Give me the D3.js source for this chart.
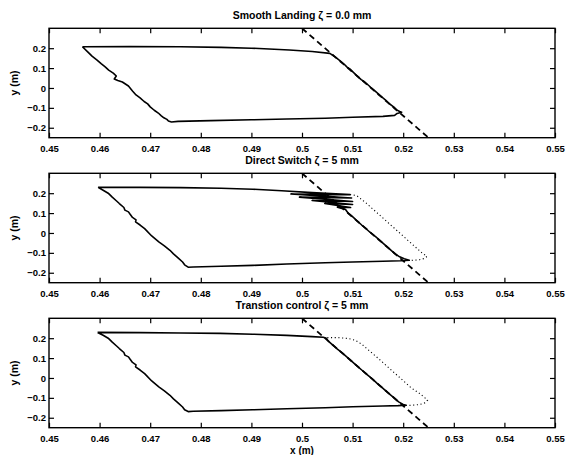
<!DOCTYPE html>
<html><head><meta charset="utf-8">
<script src="https://cdn.jsdelivr.net/npm/d3@7"></script>
<style>body{margin:0;background:#fff}svg text{font-family:"Liberation Sans",Arial,Helvetica,sans-serif;font-weight:bold;fill:#000}</style>
</head><body><svg id="c" width="566" height="455"></svg>
<script>
// ---------- data ----------
const xTicks = [0.45,0.46,0.47,0.48,0.49,0.5,0.51,0.52,0.53,0.54,0.55];
const xTickLabels = ["0.45","0.46","0.47","0.48","0.49","0.5","0.51","0.52","0.53","0.54","0.55"];
const yTicks = [-0.2,-0.1,0,0.1,0.2];
const yTickLabels = ["\u22120.2","\u22120.1","0","0.1","0.2"];
const xDomain = [0.45,0.55];
const yDomain = [-0.25,0.3];
const titles = ["Smooth Landing \u03b6 = 0.0 mm","Direct Switch \u03b6 = 5 mm","Transtion control \u03b6 = 5 mm"];
const xLabel = "x (m)";
const yLabel = "y (m)";
const guideLine = [[0.5,0.3],[0.525,-0.25]];

const smoothPath = [
[0.4566,0.207],[0.466,0.208],[0.476,0.207],[0.484,0.204],[0.490,0.200],[0.4975,0.191],[0.502,0.183],[0.5055,0.174],
[0.5066,0.155],[0.5071,0.145],[0.5076,0.135],[0.5084,0.118],[0.5089,0.105],[0.5095,0.095],[0.5099,0.085],[0.5107,0.065],[0.5117,0.042],[0.5124,0.030],[0.5133,0.010],[0.5137,0.000],[0.5143,-0.012],[0.5153,-0.035],[0.5160,-0.050],[0.5164,-0.058],[0.5172,-0.078],[0.5181,-0.095],[0.5187,-0.110],[0.5193,-0.118],[0.5197,-0.122],
[0.5188,-0.128],[0.5183,-0.138],[0.516,-0.143],[0.510,-0.147],[0.5046,-0.152],[0.497,-0.156],[0.490,-0.160],[0.482,-0.164],[0.4755,-0.168],[0.4742,-0.171],
[0.4736,-0.166],[0.4733,-0.158],[0.4727,-0.150],[0.4722,-0.140],[0.4716,-0.126],[0.4708,-0.112],[0.4700,-0.095],[0.4695,-0.080],[0.4688,-0.068],[0.4680,-0.050],[0.4672,-0.035],[0.4665,-0.015],[0.4657,0.010],[0.4645,0.030],[0.4636,0.038],[0.4629,0.045],[0.4633,0.060],[0.4627,0.075],[0.4618,0.090],[0.4611,0.106],[0.4603,0.122],[0.4595,0.140],[0.4585,0.160],[0.4577,0.180],[0.4566,0.207]
];
const directPath = [
[0.4597,0.229],[0.468,0.229],[0.476,0.228],[0.484,0.225],[0.4903,0.220],[0.496,0.212],[0.502,0.203],[0.5095,0.193],
[0.4978,0.196],[0.5098,0.176],[0.4995,0.180],[0.5100,0.158],[0.5020,0.163],[0.5100,0.143],[0.5045,0.148],[0.5096,0.128],[0.5070,0.130],[0.5086,0.118],
[0.5091,0.100],[0.5095,0.092],[0.5101,0.080],[0.5107,0.065],[0.5118,0.040],[0.5125,0.025],[0.5136,0.000],[0.5146,-0.020],[0.5155,-0.040],[0.5166,-0.065],[0.5175,-0.085],[0.5184,-0.105],[0.5193,-0.120],[0.5202,-0.130],[0.5212,-0.137],
[0.5195,-0.140],[0.516,-0.142],[0.510,-0.146],[0.5046,-0.150],[0.497,-0.156],[0.4903,-0.163],[0.484,-0.167],[0.4785,-0.171],[0.4775,-0.172],
[0.4768,-0.160],[0.4764,-0.146],[0.4755,-0.125],[0.4746,-0.105],[0.4739,-0.087],[0.4728,-0.065],[0.4717,-0.045],[0.4703,-0.015],[0.4689,0.022],[0.4680,0.040],[0.4671,0.056],[0.4672,0.066],[0.4665,0.078],[0.4660,0.095],[0.4657,0.106],[0.4650,0.115],[0.4648,0.128],[0.4639,0.148],[0.4633,0.162],[0.4625,0.180],[0.4617,0.200],[0.4607,0.215],[0.4597,0.229]
];
const directRef = [
[0.5095,0.193],[0.5108,0.188],[0.5117,0.170],[0.5127,0.150],[0.5149,0.100],[0.5171,0.050],[0.5193,0.000],[0.5215,-0.050],[0.5237,-0.100],[0.5247,-0.118],[0.5242,-0.128],[0.5232,-0.135],[0.5215,-0.138]
];
const transPath = [
[0.4596,0.229],[0.468,0.228],[0.476,0.226],[0.4838,0.224],[0.4903,0.220],[0.497,0.214],[0.5020,0.208],[0.5042,0.205],[0.5048,0.200],
[0.5052,0.185],[0.5061,0.165],[0.5070,0.145],[0.5080,0.125],[0.5089,0.105],[0.5098,0.085],[0.5108,0.062],[0.5118,0.040],[0.5128,0.018],[0.5139,-0.005],[0.5149,-0.028],[0.5159,-0.050],[0.5170,-0.075],[0.5182,-0.100],[0.5191,-0.120],[0.5200,-0.133],[0.5206,-0.137],
[0.5190,-0.139],[0.516,-0.141],[0.510,-0.145],[0.5046,-0.150],[0.497,-0.155],[0.4903,-0.160],[0.484,-0.164],[0.4785,-0.167],[0.4775,-0.169],
[0.4768,-0.160],[0.4764,-0.146],[0.4755,-0.125],[0.4746,-0.105],[0.4739,-0.087],[0.4728,-0.065],[0.4717,-0.045],[0.4703,-0.015],[0.4689,0.022],[0.4680,0.040],[0.4671,0.056],[0.4672,0.066],[0.4665,0.078],[0.4660,0.095],[0.4657,0.106],[0.4650,0.115],[0.4648,0.128],[0.4639,0.148],[0.4633,0.162],[0.4625,0.180],[0.4617,0.200],[0.4607,0.215],[0.4596,0.229]
];
const transRef = [
[0.5050,0.203],[0.5070,0.203],[0.5090,0.199],[0.5105,0.190],[0.5118,0.170],[0.5128,0.148],[0.5150,0.100],[0.5172,0.050],[0.5194,0.000],[0.5216,-0.050],[0.5233,-0.079],[0.5243,-0.100],[0.5248,-0.112],[0.5243,-0.125],[0.5232,-0.134],[0.5212,-0.138]
];

const panels = [
  {title: titles[0], path: smoothPath, ref: null},
  {title: titles[1], path: directPath, ref: directRef},
  {title: titles[2], path: transPath, ref: transRef}
];

// ---------- layout ----------
const svg = d3.select("#c");
const left = 49, right = 555, plotH = 109.4;
const tops = [28.3, 173.3, 318.3];
const x = d3.scaleLinear().domain(xDomain).range([left, right]);

panels.forEach((p, i) => {
  const top = tops[i], bottom = top + plotH;
  const y = d3.scaleLinear().domain(yDomain).range([bottom, top]);
  const g = svg.append("g");
  const clipId = "clip" + i;
  g.append("clipPath").attr("id", clipId).append("rect")
    .attr("x", left).attr("y", top).attr("width", right - left).attr("height", plotH);

  const line = d3.line().x(d => x(d[0])).y(d => y(d[1]));
  const plot = g.append("g").attr("clip-path", `url(#${clipId})`);
  if (p.ref) plot.append("path").attr("d", line(p.ref)).attr("fill", "none")
      .attr("stroke", "#000").attr("stroke-width", 1.1).attr("stroke-dasharray", "1.1,2.6");
  plot.append("path").attr("d", line(guideLine)).attr("fill", "none")
      .attr("stroke", "#000").attr("stroke-width", 1.8).attr("stroke-dasharray", "6,4");
  plot.append("path").attr("d", line(p.path)).attr("fill", "none")
      .attr("stroke", "#000").attr("stroke-width", 1.6).attr("stroke-linejoin", "round");

  // axes
  const fmtX = (d) => xTickLabels[xTicks.indexOf(d)];
  const fmtY = (d) => yTickLabels[yTicks.indexOf(d)];
  g.append("g").attr("transform", `translate(0,${bottom})`)
    .call(d3.axisBottom(x).tickValues(xTicks).tickFormat(fmtX).tickSize(-5).tickPadding(7.5));
  g.append("g").attr("transform", `translate(0,${top})`)
    .call(d3.axisTop(x).tickValues(xTicks).tickFormat("").tickSize(-5));
  g.append("g").attr("transform", `translate(${left},0)`)
    .call(d3.axisLeft(y).tickValues(yTicks).tickFormat(fmtY).tickSize(-5).tickPadding(3));
  g.append("g").attr("transform", `translate(${right},0)`)
    .call(d3.axisRight(y).tickValues(yTicks).tickFormat("").tickSize(-5));
  g.selectAll(".domain").remove();
  g.selectAll(".tick line").attr("stroke", "#000").attr("stroke-width", 1.2);
  g.selectAll(".tick text").style("font-size", "9.5px").style("font-family", '"Liberation Sans",Arial,sans-serif').style("font-weight", "bold");

  g.append("rect").attr("x", left).attr("y", top).attr("width", right - left).attr("height", plotH)
    .attr("fill", "none").attr("stroke", "#000").attr("stroke-width", 1.4);

  g.append("text").attr("x", (left + right) / 2).attr("y", top - 9.5)
    .attr("text-anchor", "middle").style("font-size", "10.5px").text(p.title);

  g.append("text").attr("transform", `translate(18,${(top + bottom) / 2}) rotate(-90)`)
    .attr("text-anchor", "middle").style("font-size", "10.5px").text(yLabel);
});

svg.append("text").attr("x", (left + right) / 2).attr("y", 454)
  .attr("text-anchor", "middle").style("font-size", "10px").text(xLabel);
</script></body></html>
